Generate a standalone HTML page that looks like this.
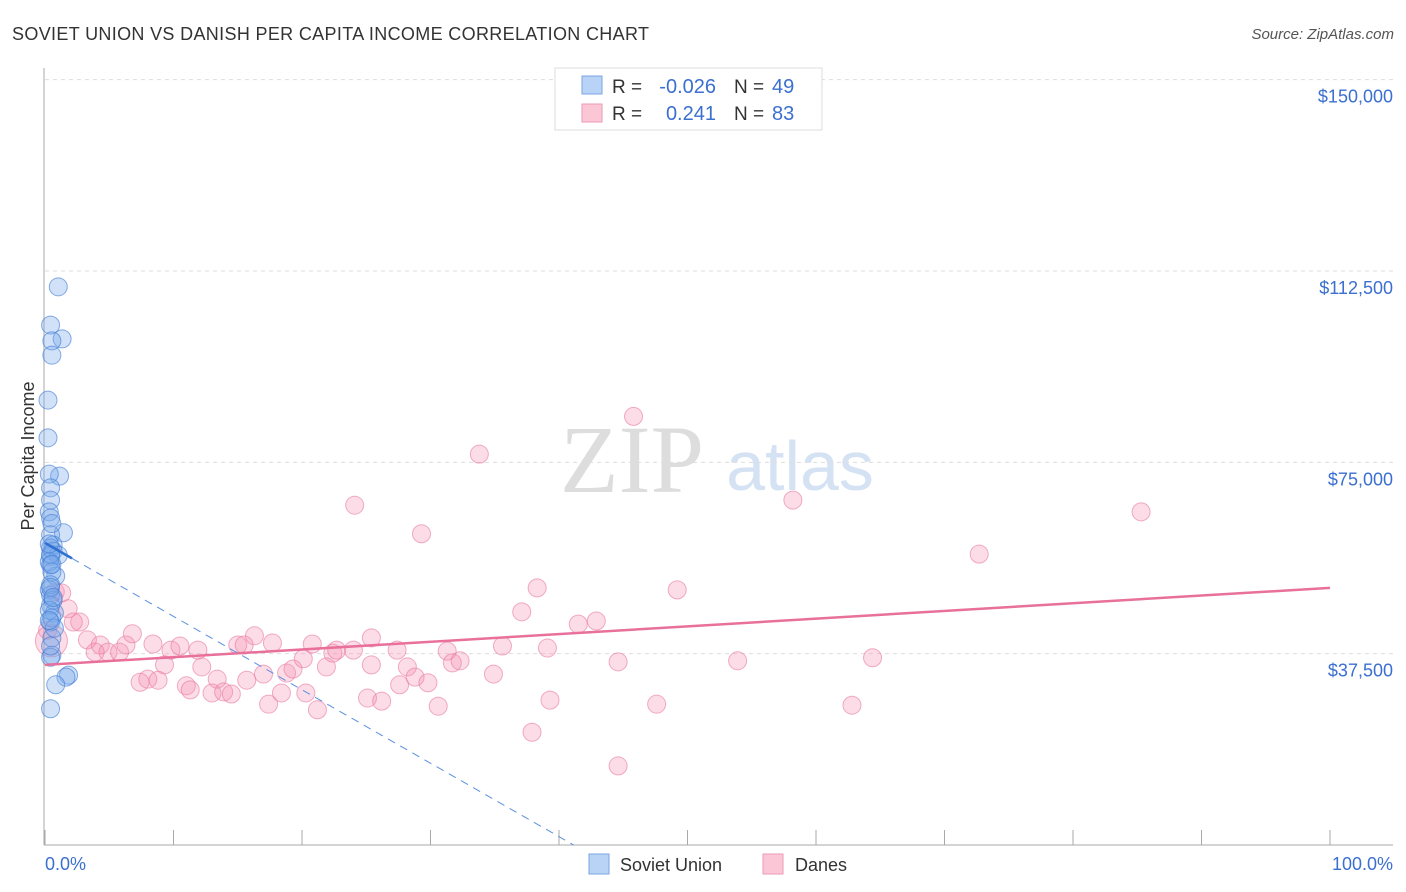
<!DOCTYPE html>
<html><head><meta charset="utf-8"><style>
body{margin:0;background:#fff;font-family:"Liberation Sans",sans-serif}
svg{display:block}
</style></head><body>
<svg width="1406" height="892" xmlns="http://www.w3.org/2000/svg" id="chart">
<text x="12" y="40" font-size="18" fill="#333" textLength="637" lengthAdjust="spacing">SOVIET UNION VS DANISH PER CAPITA INCOME CORRELATION CHART</text>
<text x="1394" y="39" font-size="15" fill="#555" text-anchor="end" font-style="italic">Source: ZipAtlas.com</text>
<g>
<text x="632" y="492" font-size="96" fill="#ddd" text-anchor="middle" font-family="Liberation Serif,serif">ZIP</text>
<text x="800" y="490" font-size="70" fill="#d4e2f4" text-anchor="middle">atlas</text>
</g>
<g id="grid"></g>
<g id="axes"></g>
<g id="pts"></g>
<g id="lines"></g>
<text transform="translate(34,456) rotate(-90)" font-size="18" fill="#333" text-anchor="middle">Per Capita Income</text>
<text x="45" y="870" font-size="18" fill="#3b6fd0">0.0%</text>
<text x="1393" y="870" font-size="18" fill="#3b6fd0" text-anchor="end">100.0%</text>
<g>
<rect x="555" y="68" width="267" height="62" fill="#fff" stroke="#ddd"/>
<rect x="582" y="76" width="20" height="18" fill="#b8d3f5" stroke="#7aa6e3"/>
<rect x="582" y="104" width="20" height="18" fill="#fbc7d7" stroke="#ee9ab5"/>
<text x="612" y="93" font-size="19" fill="#333">R =</text>
<text x="716" y="93" font-size="20" fill="#3b6fd0" text-anchor="end">-0.026</text>
<text x="734" y="93" font-size="19" fill="#333">N =</text>
<text x="772" y="93" font-size="20" fill="#3b6fd0">49</text>
<text x="612" y="120" font-size="19" fill="#333">R =</text>
<text x="716" y="120" font-size="20" fill="#3b6fd0" text-anchor="end">0.241</text>
<text x="734" y="120" font-size="19" fill="#333">N =</text>
<text x="772" y="120" font-size="20" fill="#3b6fd0">83</text>
</g>
<g>
<rect x="589" y="854" width="20" height="20" fill="#b8d3f5" stroke="#7aa6e3"/>
<text x="620" y="871" font-size="18" fill="#333">Soviet Union</text>
<rect x="763" y="854" width="20" height="20" fill="#fbc7d7" stroke="#ee9ab5"/>
<text x="795" y="871" font-size="18" fill="#333">Danes</text>
</g>
</svg>
<script>
const yTicks=[37500,75000,112500,150000];
const yTickLabels=["$37,500","$75,000","$112,500","$150,000"];
const xTicks=[0,10,20,30,40,50,60,70,80,90,100];
const sovietX=[0.8,0.2,1.1,0.3,0.3,0,0,0.9,0.1,0.2,0.2,0.1,0.2,1.2,0.2,0.4,0.2,0.4,0.2,0.8,0.2,0.6,0.1,0.2,0.2,0.5,0.2,0.3,0.3,0.2,1.6,1.4,0.6,0.2,0.1,0.3,0.2,0.4,0.1,0.3,0.5,0.2,0.1,0.3,0.2,0.4,0.1,0.2,0.3];
const sovietY=[109400,101900,99200,98800,96000,87200,79800,72300,72700,70000,67600,65300,64100,61200,60800,58800,58200,57600,56600,56800,54900,52700,50000,49000,47000,45500,43700,40600,37200,36800,33300,32900,31400,26700,55500,53500,51000,48000,46000,44500,42500,57000,59000,55000,50500,48500,44000,39000,63000];
const danesX=[45.8,33.8,24.1,58.2,85.3,29.3,72.7,38.3,49.2,37.1,42.9,41.5,0.8,1.3,1.8,2.7,2.2,0.2,3.3,4.3,3.9,4.9,5.8,6.3,6.8,8.4,9.8,10.5,11.9,9.3,7.4,8.0,8.8,11.0,11.3,12.2,13.0,13.4,13.9,14.5,15.0,15.5,16.3,15.7,17.0,17.7,17.4,18.4,18.8,19.3,20.1,20.3,20.8,21.2,21.9,22.4,22.7,24.0,25.4,25.4,25.1,26.2,27.4,27.6,28.2,28.8,29.8,30.6,31.3,31.7,32.3,34.9,35.6,37.9,39.1,39.3,44.6,44.6,47.6,53.9,64.4,62.8,0.5];
const danesY=[84000,76600,66600,67600,65300,61000,57000,50400,50000,45700,43900,43300,49600,49400,46300,43700,43700,42100,40200,39200,37800,37800,37800,39200,41400,39400,38200,39000,38200,35300,31900,32500,32300,31200,30400,34900,29800,32500,30000,29600,39200,39200,41000,32300,33500,39600,27600,29800,33700,34500,36500,29800,39400,26500,34900,37600,38200,38200,40600,35300,28800,28200,38200,31400,34900,32900,31800,27200,38000,35700,36100,33500,39000,22100,38600,28400,35900,15500,27600,36100,36700,27400,40000];
const pinkLine=[35300,50400];
const blueLine={a:59200,b:-1439};
const NS="http://www.w3.org/2000/svg";
const X0=45,X1=1330,Y0=845,K=574/112500;
const sx=p=>X0+(X1-X0)*p/100, sy=v=>Y0-v*K;
function mk(t,at,par){const e=document.createElementNS(NS,t);for(const k in at)e.setAttribute(k,at[k]);document.getElementById(par).appendChild(e);return e;}
yTicks.forEach((v,i)=>{
 const l=mk('line',{x1:45,x2:1393,y1:sy(v),y2:sy(v),stroke:'#ddd','stroke-dasharray':'4,4'},'grid');
 
 
 const t=mk('text',{x:1393,y:sy(v)+23,'font-size':18,fill:'#3b6fd0','text-anchor':'end'},'grid');
 t.textContent=yTickLabels[i];
 
 
});
let ax=mk('line',{x1:44,x2:44,y1:68,y2:845,stroke:'#aaa'},'axes');


ax=mk('line',{x1:44,x2:1393,y1:845,y2:845,stroke:'#aaa'},'axes');


xTicks.forEach(p=>{const t=mk('line',{x1:sx(p),x2:sx(p),y1:830,y2:845,stroke:'#aaa'},'axes');
 
 });
danesX.forEach((p,i)=>{const c=mk('circle',{cx:sx(p),cy:sy(danesY[i]),r:i==82?16:9,fill:'rgba(244,143,177,0.3)',stroke:'rgba(232,120,160,0.6)'},'pts');
 
 });
sovietX.forEach((p,i)=>{const c=mk('circle',{cx:sx(p)+3,cy:sy(sovietY[i]),r:9,fill:'rgba(120,170,235,0.35)',stroke:'rgba(60,120,210,0.6)'},'pts');
 
 });
let l=mk('line',{x1:sx(0),y1:sy(pinkLine[0]),x2:sx(100),y2:sy(pinkLine[1]),stroke:'#e8709a','stroke-width':2.5},'lines');


const bEnd=-blueLine.a/blueLine.b;
l=mk('line',{x1:sx(0),y1:sy(blueLine.a),x2:sx(2.1),y2:sy(blueLine.a+blueLine.b*2.1),stroke:'#2f6fd0','stroke-width':2.5},'lines');


l=mk('line',{x1:sx(2.1),y1:sy(blueLine.a+blueLine.b*2.1),x2:sx(bEnd),y2:sy(0),stroke:'#5a8fe0','stroke-width':1,'stroke-dasharray':'8,6'},'lines');


</script>
</body></html>
